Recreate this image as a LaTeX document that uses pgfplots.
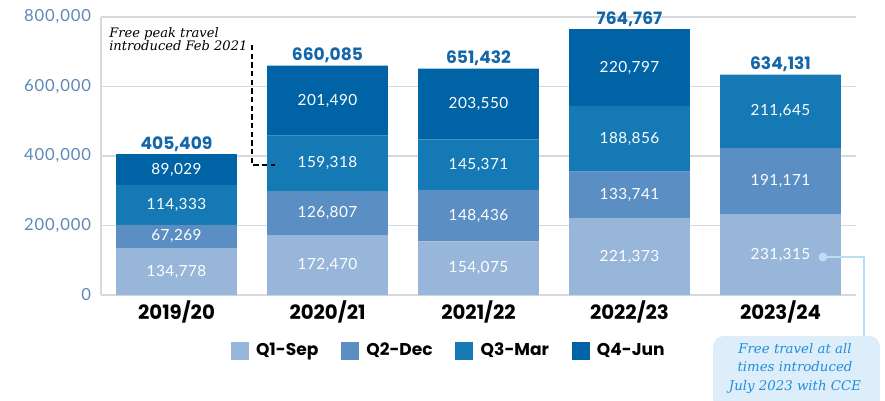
\documentclass[border=0pt]{standalone}
\usepackage{pgfplots}
\pgfplotsset{compat=1.18}
\usepackage{fontspec}
\setmainfont{Lato}
\newfontfamily\numfont{Lato}[LetterSpace=3]
\newfontfamily\tickfont{Lato}[LetterSpace=5]
\newfontfamily\boldfont{Poppins}[UprightFont=* Bold, BoldFont=* Bold]
\newfontfamily\notefont{DejaVu Serif}
\definecolor{qone}{HTML}{97B6D9}
\definecolor{qtwo}{HTML}{5B8FC3}
\definecolor{qthree}{HTML}{1479B4}
\definecolor{qfour}{HTML}{0063A5}
\definecolor{totc}{HTML}{1466A8}
\definecolor{tickc}{HTML}{5E88B8}
\definecolor{gridc}{HTML}{D8D9DD}
\definecolor{notec}{HTML}{1E8FDC}
\definecolor{boxc}{HTML}{DDEEFA}
\definecolor{linec}{HTML}{BCDDF3}
\tikzset{seg/.style={text=white, font=\numfont\fontsize{11.5}{13}\selectfont},
  tot/.style={text=totc, anchor=south, inner sep=0pt, font=\boldfont\fontsize{12.8}{14}\selectfont}}
\pgfplotsset{common/.style={
  at={(75.75pt,78.75pt)}, anchor=south west,
  width=566.25pt, height=208.5pt, scale only axis,
  xmin=-0.5, xmax=4.5, ymin=0, ymax=800000, clip=false}}
\begin{document}
\begin{tikzpicture}
\path[use as bounding box] (0,0) rectangle (663.75pt,300pt);
\begin{axis}[
  common,
  ybar stacked, bar width=0.8,
  xtick={0,1,2,3,4},
  xticklabels={2019/20,2020/21,2021/22,2022/23,2023/24},
  xticklabel style={font=\boldfont\fontsize{14.8}{16}\selectfont, text=black, yshift=-1pt},
  ytick={0,200000,400000,600000,800000},
  scaled y ticks=false,
  yticklabel style={font=\tickfont\fontsize{12.5}{14}\selectfont, text=tickc, xshift=-4pt},
  /pgf/number format/.cd, fixed, 1000 sep={,}, assume math mode=true, /pgfplots/.cd,
  ymajorgrids, grid style={draw=gridc, line width=0.8pt},
  axis x line*=bottom, axis y line*=left,
  axis line style={draw=gridc, line width=0.9pt, -},
  major tick length=0pt,
  legend columns=4,
  legend style={at={(0.461,-0.20)}, anchor=center, draw=none, fill=none,
    font=\boldfont\fontsize{12.8}{14}\selectfont,
    /tikz/every even column/.append style={column sep=15pt}},
  legend image code/.code={\fill[#1] (0pt,-6.75pt) rectangle (13.5pt,6.75pt); \path (17pt,0pt);},
]
\addplot[fill=qone, draw=none] coordinates {(0,134778) (1,172470) (2,154075) (3,221373) (4,231315)};
\addplot[fill=qtwo, draw=none] coordinates {(0,67269) (1,126807) (2,148436) (3,133741) (4,191171)};
\addplot[fill=qthree, draw=none] coordinates {(0,114333) (1,159318) (2,145371) (3,188856) (4,211645)};
\addplot[fill=qfour, draw=none] coordinates {(0,89029) (1,201490) (2,203550) (3,220797) (4,0)};
\legend{Q1-Sep,Q2-Dec,Q3-Mar,Q4-Jun}
\end{axis}
\begin{axis}[common, hide axis]
\node[seg] at (axis cs:0,67389) {134,778};
\node[seg] at (axis cs:0,168412) {67,269};
\node[seg] at (axis cs:0,259214) {114,333};
\node[seg] at (axis cs:0,360895) {89,029};
\node[seg] at (axis cs:1,86235) {172,470};
\node[seg] at (axis cs:1,235874) {126,807};
\node[seg] at (axis cs:1,378936) {159,318};
\node[seg] at (axis cs:1,559340) {201,490};
\node[seg] at (axis cs:2,77038) {154,075};
\node[seg] at (axis cs:2,228293) {148,436};
\node[seg] at (axis cs:2,375197) {145,371};
\node[seg] at (axis cs:2,549657) {203,550};
\node[seg] at (axis cs:3,110687) {221,373};
\node[seg] at (axis cs:3,288244) {133,741};
\node[seg] at (axis cs:3,449542) {188,856};
\node[seg] at (axis cs:3,654369) {220,797};
\node[seg] at (axis cs:4,115658) {231,315};
\node[seg] at (axis cs:4,326901) {191,171};
\node[seg] at (axis cs:4,528309) {211,645};
\node[tot] at (axis cs:0,413000) {405,409};
\node[tot] at (axis cs:1,668000) {660,085};
\node[tot] at (axis cs:2,659000) {651,432};
\node[tot] at (axis cs:3,772000) {764,767};
\node[tot] at (axis cs:4,642000) {634,131};
\end{axis}
\begin{scope}[yshift=300pt, x=0.75pt, y=-0.75pt]
\node[anchor=north west, inner sep=0pt, align=left, font=\notefont\itshape\fontsize{9.8}{10.2}\selectfont] at (109,27) {Free peak travel\\introduced Feb 2021};
\draw[black, line width=1.1pt, dash pattern=on 4pt off 2.5pt] (252,45) -- (252,165) -- (275,165);
\fill[boxc, rounded corners=8pt] (713,336) rectangle (880,410);
\draw[linec, line width=1.5pt] (823,257) -- (864,257) -- (864,336);
\fill[linec] (823,257) circle (4.5);
\node[anchor=north, inner sep=0pt, align=center, text=notec, font=\notefont\itshape\fontsize{10}{13.9}\selectfont] at (795,343) {Free travel at all\\times introduced\\July 2023 with CCE};
\end{scope}
\end{tikzpicture}
\end{document}
